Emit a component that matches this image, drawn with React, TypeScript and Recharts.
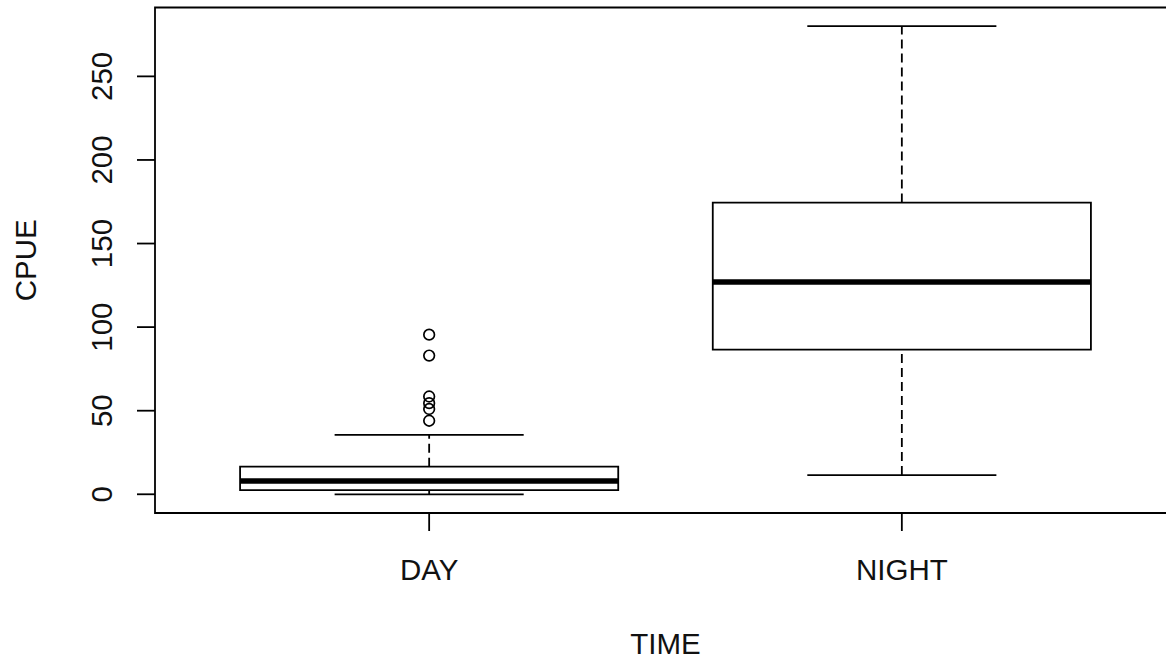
import React from 'react';
import { ScatterChart, Scatter, XAxis, YAxis, ReferenceArea, ReferenceLine, Label } from 'recharts';

const categories = ['DAY', 'NIGHT'];
const positions = [1, 2];
const lowerWhisker = [0, 11.5];
const q1 = [2.5, 86.5];
const median = [8, 127];
const q3 = [16.5, 174.5];
const upperWhisker = [35.5, 280];
const dayOutliers = [95.5, 83, 58.5, 54.5, 51, 44];
const yTicks = [0, 50, 100, 150, 200, 250];
const yDomain = [-11.2, 291.2];
const xDomain = [0.42, 2.58];

const outlierData = dayOutliers.map((v) => ({ x: positions[0], y: v }));

const FONT = '"Liberation Sans", Arial, sans-serif';
const FS = 29.5;
const BOX_HALF = 0.4;
const CAP_HALF = 0.2;

const XTick = (props: any) => {
  const { x, y, payload } = props;
  return (
    <text x={x} y={y} dy={49} textAnchor="middle" fontSize={FS} fontFamily={FONT} fill="#111">
      {categories[positions.indexOf(payload.value)]}
    </text>
  );
};

const YTick = (props: any) => {
  const { x, y, payload } = props;
  const tx = x - 25;
  return (
    <text x={tx} y={y} transform={`rotate(-90, ${tx}, ${y})`} textAnchor="middle" fontSize={FS} fontFamily={FONT} fill="#111">
      {payload.value}
    </text>
  );
};

const OutlierShape = (props: any) => {
  const { cx, cy } = props;
  return <circle cx={cx} cy={cy} r={5.3} fill="none" stroke="#000" strokeWidth={1.7} />;
};

export default function App() {
  const boxes: React.ReactNode[] = [];
  positions.forEach((p, i) => {
    boxes.push(
      <ReferenceLine key={`wu${i}`} segment={[{ x: p, y: q3[i] }, { x: p, y: upperWhisker[i] }]} stroke="#000" strokeWidth={1.8} strokeDasharray="9 5" />,
      <ReferenceLine key={`wl${i}`} segment={[{ x: p, y: lowerWhisker[i] }, { x: p, y: q1[i] }]} stroke="#000" strokeWidth={1.8} strokeDasharray="9 5" />,
      <ReferenceLine key={`cu${i}`} segment={[{ x: p - CAP_HALF, y: upperWhisker[i] }, { x: p + CAP_HALF, y: upperWhisker[i] }]} stroke="#000" strokeWidth={1.8} />,
      <ReferenceLine key={`cl${i}`} segment={[{ x: p - CAP_HALF, y: lowerWhisker[i] }, { x: p + CAP_HALF, y: lowerWhisker[i] }]} stroke="#000" strokeWidth={1.8} />,
      <ReferenceArea key={`b${i}`} x1={p - BOX_HALF} x2={p + BOX_HALF} y1={q1[i]} y2={q3[i]} fill="#fff" fillOpacity={1} stroke="#000" strokeWidth={1.8} />,
      <ReferenceLine key={`m${i}`} segment={[{ x: p - BOX_HALF, y: median[i] }, { x: p + BOX_HALF, y: median[i] }]} stroke="#000" strokeWidth={5.5} />
    );
  });

  return (
    <div style={{ position: 'absolute', left: 0, top: 0, width: 1166, height: 660, overflow: 'hidden', background: '#fff' }}>
      <ScatterChart width={1180} height={660} margin={{ top: 7.5, right: 4, bottom: 0, left: 0 }}>
        <XAxis
          type="number"
          dataKey="x"
          domain={xDomain}
          ticks={positions}
          allowDataOverflow
          height={147}
          tickSize={18}
          tickMargin={0}
          axisLine={false}
          tickLine={{ stroke: '#000', strokeWidth: 1.8 }}
          tick={<XTick />}
        >
          <Label
            content={(props: any) => {
              const vb = props.viewBox;
              return (
                <text x={vb.x + vb.width / 2} y={vb.y + 141} textAnchor="middle" fontSize={FS} fontFamily={FONT} fill="#111">
                  TIME
                </text>
              );
            }}
          />
        </XAxis>
        <YAxis
          type="number"
          dataKey="y"
          domain={yDomain}
          ticks={yTicks}
          allowDataOverflow
          width={155}
          tickSize={18}
          tickMargin={0}
          axisLine={false}
          tickLine={{ stroke: '#000', strokeWidth: 1.8 }}
          tick={<YTick />}
        >
          <Label
            content={(props: any) => {
              const vb = props.viewBox;
              const cx = 36;
              const cy = vb.y + vb.height / 2;
              return (
                <text x={cx} y={cy} transform={`rotate(-90, ${cx}, ${cy})`} textAnchor="middle" fontSize={FS} fontFamily={FONT} fill="#111">
                  CPUE
                </text>
              );
            }}
          />
        </YAxis>
        <ReferenceArea x1={xDomain[0]} x2={xDomain[1]} y1={yDomain[0]} y2={yDomain[1]} fill="none" stroke="#000" strokeWidth={1.8} />
        {boxes}
        <Scatter data={outlierData} dataKey="y" shape={<OutlierShape />} isAnimationActive={false} />
      </ScatterChart>
    </div>
  );
}
